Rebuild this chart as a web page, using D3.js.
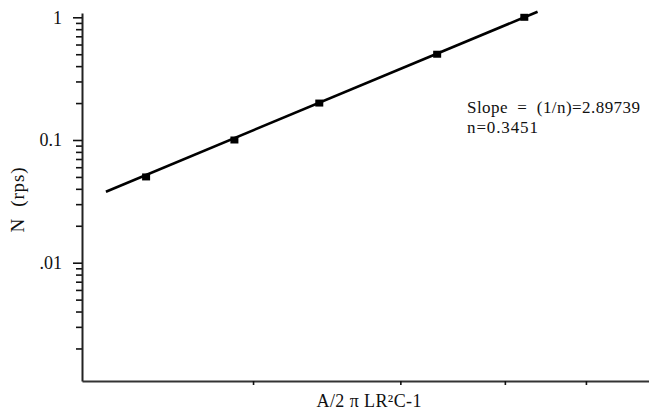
<!DOCTYPE html>
<html>
<head>
<meta charset="utf-8">
<script src="https://cdn.jsdelivr.net/npm/d3@7/dist/d3.min.js"></script>
<style>
  html, body { margin: 0; padding: 0; background: #fff; }
  svg { display: block; }
</style>
</head>
<body>
<svg id="chart" width="649" height="413"></svg>
<script>
// ---- data ----
const xValues = [1.49, 1.9, 2.4, 3.32, 4.22];
const yValues = [0.05, 0.1, 0.2, 0.5, 1.0];
const fitX = [1.334, 4.377];
const fitY = [0.0379, 1.11];
const yTickValues = [1, 0.1, 0.01];
const yTickLabels = ["1", "0.1", ".01"];
const yMinorValues = [0.9,0.8,0.7,0.6,0.5,0.4,0.3,0.2,0.09,0.08,0.07,0.06,0.05,0.04,0.03,0.02,0.009,0.008,0.007,0.006,0.005,0.004,0.003,0.002];
const xTickValues = [2, 3, 4, 5];
const xDomain = [1.249, 5.948];
const yDomain = [0.001086, 1.084];
const annotationLines = ["Slope  =  (1/n)=2.89739", "n=0.3451"];
const xTitle = "A/2 \u03c0 LR\u00b2C-1";
const yTitle = "N  (rps)";

// ---- layout ----
const SERIF = "'Liberation Serif', 'Times New Roman', serif";
const svg = d3.select("#chart");
const mLeft = 82, mRight = 649, mTop = 13, mBottom = 381;

const x = d3.scaleLog().domain(xDomain).range([mLeft, mRight]);
const y = d3.scaleLog().domain(yDomain).range([mBottom, mTop]);

// y minor ticks
const yMinor = d3.axisLeft(y).tickValues(yMinorValues).tickFormat(() => "").tickSizeInner(6).tickSizeOuter(0);
const gym = svg.append("g").attr("transform", `translate(${mLeft},0)`).call(yMinor);
gym.select(".domain").remove();
gym.selectAll(".tick line").attr("stroke", "#111").attr("stroke-width", 1.6);

// y axis: major ticks
const yAxis = d3.axisLeft(y)
  .tickValues(yTickValues)
  .tickFormat((d, i) => yTickLabels[i])
  .tickSizeInner(9).tickSizeOuter(0).tickPadding(11);
const gy = svg.append("g").attr("transform", `translate(${mLeft},0)`).call(yAxis);
gy.attr("font-family", SERIF).attr("font-size", 18);
gy.select(".domain").attr("stroke", "#222").attr("stroke-width", 2);
gy.selectAll(".tick line").attr("stroke", "#111").attr("stroke-width", 1.6);
gy.selectAll(".tick text").attr("fill", "#111");

// x axis
const xAxis = d3.axisBottom(x).tickValues(xTickValues).tickFormat(() => "").tickSizeInner(4).tickSizeOuter(0);
const gx = svg.append("g").attr("transform", `translate(0,${mBottom})`).call(xAxis);
gx.select(".domain").attr("stroke", "#333").attr("stroke-width", 2);
gx.selectAll(".tick line").attr("stroke", "#111").attr("stroke-width", 1.6);

// fit line
const line = d3.line().x((d, i) => x(fitX[i])).y((d, i) => y(fitY[i]));
svg.append("path").datum(fitX).attr("d", line)
  .attr("fill", "none").attr("stroke", "#000").attr("stroke-width", 2.6);

// markers
svg.append("g").selectAll("rect").data(xValues).join("rect")
  .attr("x", (d) => x(d) - 4)
  .attr("y", (d, i) => y(yValues[i]) - 3.5)
  .attr("width", 8).attr("height", 7)
  .attr("fill", "#000");

// annotation
const annWidths = [173, 71];
svg.append("g").selectAll("text").data(annotationLines).join("text")
  .attr("x", 467).attr("y", (d, i) => 113 + i * 20)
  .attr("font-family", SERIF).attr("font-size", 17).attr("fill", "#111")
  .attr("xml:space", "preserve")
  .attr("textLength", (d, i) => annWidths[i]).attr("lengthAdjust", "spacing")
  .text(d => d);

// axis titles
svg.append("text").attr("x", 369).attr("y", 407).attr("text-anchor", "middle")
  .attr("font-family", SERIF).attr("font-size", 18)
  .attr("textLength", 105).attr("lengthAdjust", "spacing")
  .attr("fill", "#111").text(xTitle);
svg.append("text").attr("transform", "translate(24,200) rotate(-90)")
  .attr("text-anchor", "middle").attr("xml:space", "preserve")
  .attr("font-family", SERIF).attr("font-size", 19)
  .attr("textLength", 65).attr("lengthAdjust", "spacing")
  .attr("fill", "#111").text(yTitle);
</script>
</body>
</html>
